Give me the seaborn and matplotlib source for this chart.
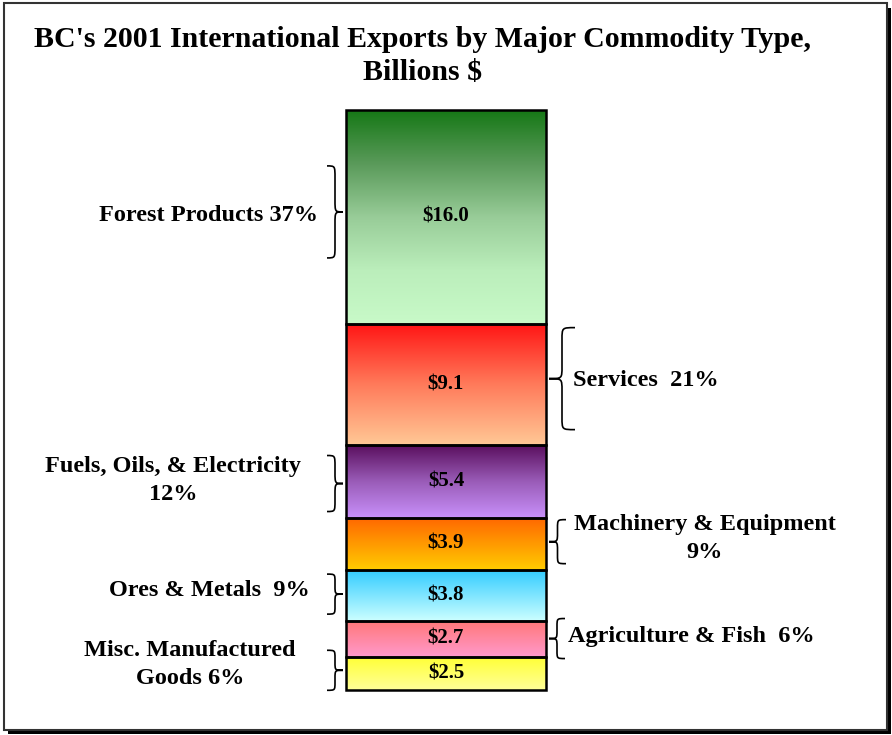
import numpy as np
import pandas as pd
import matplotlib
matplotlib.use("Agg")
import matplotlib.pyplot as plt
import seaborn as sns
from matplotlib.path import Path
from matplotlib.patches import PathPatch, Rectangle
from matplotlib.colors import LinearSegmentedColormap

# ---------------- data (bottom to top) ----------------
categories = ["Misc. Manufactured Goods", "Agriculture & Fish", "Ores & Metals",
              "Machinery & Equipment", "Fuels, Oils, & Electricity", "Services",
              "Forest Products"]
values = [2.5, 2.7, 3.8, 3.9, 5.4, 9.1, 16.0]
label_texts = ["Misc. Manufactured\nGoods 6%", "Agriculture & Fish  6%", "Ores & Metals  9%",
               "Machinery & Equipment\n9%", "Fuels, Oils, & Electricity\n12%",
               "Services  21%", "Forest Products 37%"]
title_text = "BC's 2001 International Exports by Major Commodity Type,\nBillions $"

# ---------------- style ----------------
gradients = [
    ["#ffff33", "#ffff99"],
    ["#ff7777", "#ff99cc"],
    ["#33ccff", "#ccffff"],
    ["#ff6600", "#ffcc00"],
    ["#5a0f5e", "#9a5cb8", "#c890fa"],
    ["#ff1414", "#ff7a5a", "#ffc896"],
    ["#167816", "#5a9a5a", "#98cc98", "#bbeebb", "#c8fac8"],
]
sides = ["L", "R", "L", "R", "L", "R", "L"]
brace_half_px = [20, 20, 20, 22, 28, 51, 46]
brace_w_px = [16, 16, 16, 17, 16, 26, 16]
brace_off_px = [3, 0, 1, 2, -2, 6, 5]
label_x_px = [190, 568, 310, 705, 173, 573, 318]
label_ha = ["center", "left", "right", "center", "center", "left", "right"]
label_off_px = [9, 2, 5, 5, 1, 4, 1]

sns.set_theme(style="white")
plt.rcParams["font.family"] = ["Liberation Serif", "DejaVu Serif"]
plt.rcParams["font.weight"] = "bold"
plt.rcParams["text.color"] = "black"

W, H = 892, 735
fig = plt.figure(figsize=(W / 100, H / 100), dpi=100)
fig.patch.set_facecolor("white")
bar_top_px, bar_bot_px = 110, 690
ax = fig.add_axes([0, (H - bar_bot_px) / H, 1, (bar_bot_px - bar_top_px) / H])
ax.set_facecolor("none")

total = sum(values)
bottoms = np.concatenate([[0], np.cumsum(values)[:-1]])
df = pd.DataFrame({"group": ["BC"] * len(values), "category": categories,
                   "value": values, "bottom": bottoms})

for i, row in df.iterrows():
    sns.barplot(data=df.iloc[[i]], x="group", y="value", bottom=row["bottom"],
                width=0.8, color=gradients[i][0], edgecolor="black",
                linewidth=1.8, ax=ax, zorder=2)

ypx = (bar_bot_px - bar_top_px) / total   # pixels per unit
xpx = 250.0                                # pixels per x unit
xc_px = 446

patches = list(ax.patches)
for i, p in enumerate(patches):
    x0, w = p.get_x(), p.get_width()
    y0, h = p.get_y(), p.get_height()
    cmap = LinearSegmentedColormap.from_list(f"g{i}", gradients[i])
    grad = np.linspace(0, 1, 256).reshape(-1, 1)
    im = ax.imshow(grad, cmap=cmap, extent=(x0, x0 + w, y0, y0 + h), origin="upper",
                   aspect="auto", interpolation="bilinear", zorder=1)
    im.set_clip_path(p)
    p.set_facecolor("none")
    p.set_zorder(3)
    p.set_clip_on(False)
    mid = y0 + h / 2
    ax.text(x0 + w / 2, mid, f"${values[i]:.1f}", ha="center", va="center",
            fontsize=15, fontweight="bold", color="black", zorder=4)

    # brace
    bar_edge = x0 if sides[i] == "L" else x0 + w
    sgn = -1 if sides[i] == "L" else 1
    tip = bar_edge + sgn * 3 / xpx
    back = tip + sgn * brace_w_px[i] / xpx
    xs = (tip + back) / 2
    yc = mid + brace_off_px[i] / ypx
    hh = brace_half_px[i] / ypx
    r = min(12 / ypx, 0.4 * hh)
    top, bot = yc + hh, yc - hh
    verts = [(back, top), (xs, top), (xs, top), (xs, top - r),
             (xs, yc + r),
             (xs, yc), (xs, yc), (tip, yc),
             (xs, yc), (xs, yc), (xs, yc - r),
             (xs, bot + r),
             (xs, bot), (xs, bot), (back, bot)]
    codes = [Path.MOVETO, Path.CURVE4, Path.CURVE4, Path.CURVE4,
             Path.LINETO,
             Path.CURVE4, Path.CURVE4, Path.CURVE4,
             Path.CURVE4, Path.CURVE4, Path.CURVE4,
             Path.LINETO,
             Path.CURVE4, Path.CURVE4, Path.CURVE4]
    ax.add_patch(PathPatch(Path(verts, codes), facecolor="none", edgecolor="black",
                           linewidth=1.2, zorder=4, clip_on=False))

    # category label
    lx = (label_x_px[i] - xc_px) / xpx
    ax.text(lx, mid + label_off_px[i] / ypx, label_texts[i], ha=label_ha[i],
            va="center", multialignment="center", fontsize=17.5, fontweight="bold",
            linespacing=1.42, zorder=4, color="black")

ax.set_xlim(-xc_px / xpx, (W - xc_px) / xpx)
ax.set_ylim(0, total)
ax.axis("off")

fig.text(423 / W, 1 - 56 / H, title_text, ha="center", va="center",
         fontsize=21.5, fontweight="bold", linespacing=1.3, color="black")

# frame with shadow
fig.add_artist(Rectangle((887 / W, 1 - 734 / H), 4 / W, 726 / H, transform=fig.transFigure,
                         facecolor="black", edgecolor="none", zorder=10))
fig.add_artist(Rectangle((8 / W, 1 - 734 / H), 883 / W, 4 / H, transform=fig.transFigure,
                         facecolor="black", edgecolor="none", zorder=10))
fig.add_artist(Rectangle((3.5 / W, 1 - 730 / H), 883.5 / W, 727.5 / H, transform=fig.transFigure,
                         facecolor="none", edgecolor="#333333", linewidth=1.5, zorder=10))

fig.savefig("out.png", dpi=100, facecolor="white")
